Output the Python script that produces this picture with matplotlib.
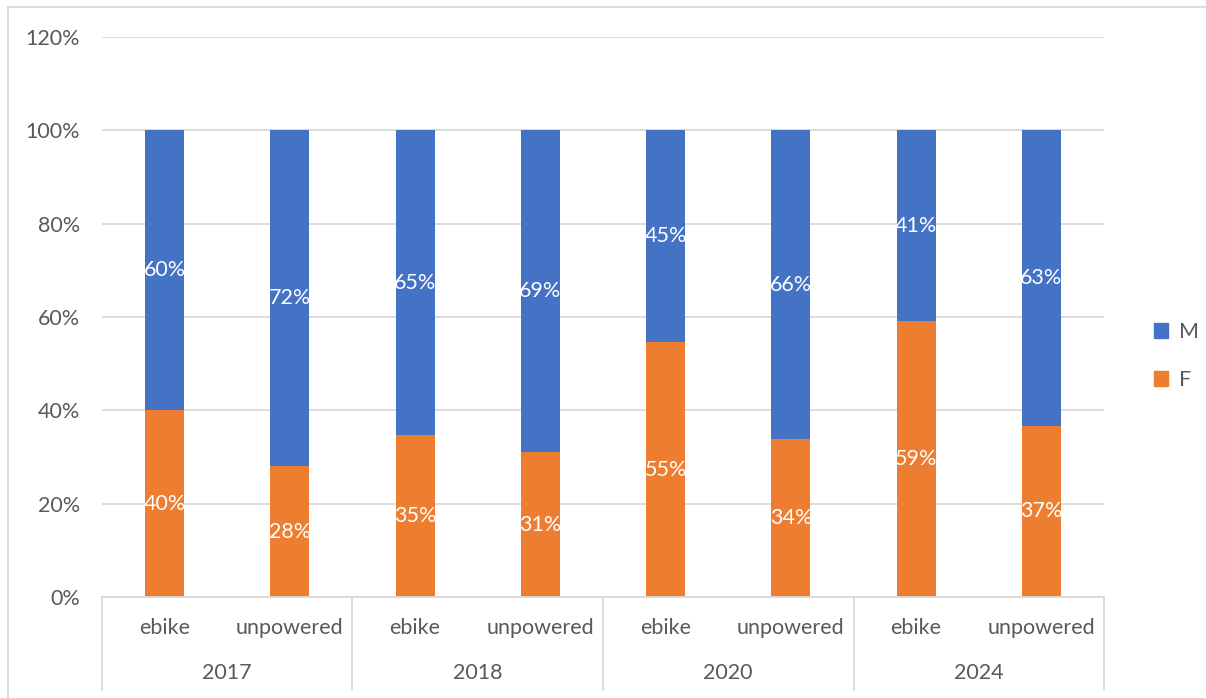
import numpy as np
import matplotlib.pyplot as plt
from matplotlib.lines import Line2D
from matplotlib.patches import Patch

years = ['2017', '2018', '2020', '2024']
kinds = ['ebike', 'unpowered']
female = [40.0, 28.0, 34.7, 31.0, 54.6, 33.8, 59.1, 36.7]
male = [100 - v for v in female]

blue = '#4472C4'
orange = '#ED7D31'
grid = '#D9D9D9'
txt = '#595959'
fs = 15.5

plt.rcParams['font.family'] = ['Lato', 'DejaVu Sans']

W, H = 1206, 698
fig = plt.figure(figsize=(W / 100, H / 100), dpi=100)
ax = fig.add_axes([102 / W, 1 - 597 / H, 1002 / W, 560 / H])

n = len(female)
x = np.arange(n)
bw = 0.31
ax.bar(x, female, bw, color=orange, zorder=2)
ax.bar(x, male, bw, bottom=female, color=blue, zorder=2)

for i in range(n):
    ax.text(x[i], female[i] / 2, f'{female[i]:.0f}%', ha='center', va='center',
            color='white', fontsize=fs, zorder=3)
    ax.text(x[i], female[i] + male[i] / 2, f'{male[i]:.0f}%', ha='center', va='center',
            color='white', fontsize=fs, zorder=3)

ax.set_xlim(-0.5, n - 0.5)
ax.set_ylim(0, 120)
ax.set_yticks(range(0, 121, 20))
ax.set_yticklabels([f'{v}%' for v in range(0, 121, 20)])
ax.tick_params(axis='y', length=0, labelsize=fs, labelcolor=txt, pad=16)
ax.set_xticks([])
ax.yaxis.grid(True, color=grid, linewidth=1.3, zorder=0)
for s in ['top', 'right', 'left']:
    ax.spines[s].set_visible(False)
ax.spines['bottom'].set_color(grid)
ax.spines['bottom'].set_linewidth(1.3)

# two-level category axis
def fx(px):
    return px / W

def fy(py):
    return 1 - py / H

slot = 1002 / n
for i in range(n):
    cx = 102 + slot * (i + 0.5)
    fig.text(fx(cx), fy(628), kinds[i % 2], ha='center', va='center',
             fontsize=fs, color=txt)
for j, yr in enumerate(years):
    cx = 102 + slot * (2 * j + 1)
    fig.text(fx(cx), fy(673), yr, ha='center', va='center', fontsize=fs, color=txt)
for j in range(len(years) + 1):
    px = 102 + slot * 2 * j
    fig.add_artist(Line2D([fx(px), fx(px)], [fy(597), fy(690)], color=grid, lw=1.3))

# chart border
fig.add_artist(Line2D([fx(8), fx(8)], [fy(7), 0], color=grid, lw=1.3))
fig.add_artist(Line2D([fx(8), 1], [fy(7), fy(7)], color=grid, lw=1.3))

handles = [Patch(color=blue, label='M'), Patch(color=orange, label='F')]
fig.legend(handles=handles, loc='center left', bbox_to_anchor=(fx(1135), fy(356)),
           frameon=False, fontsize=fs, labelcolor=txt, handlelength=0.65,
           handleheight=0.65, handletextpad=0.5, labelspacing=1.3)

fig.savefig('out.png', dpi=100)
